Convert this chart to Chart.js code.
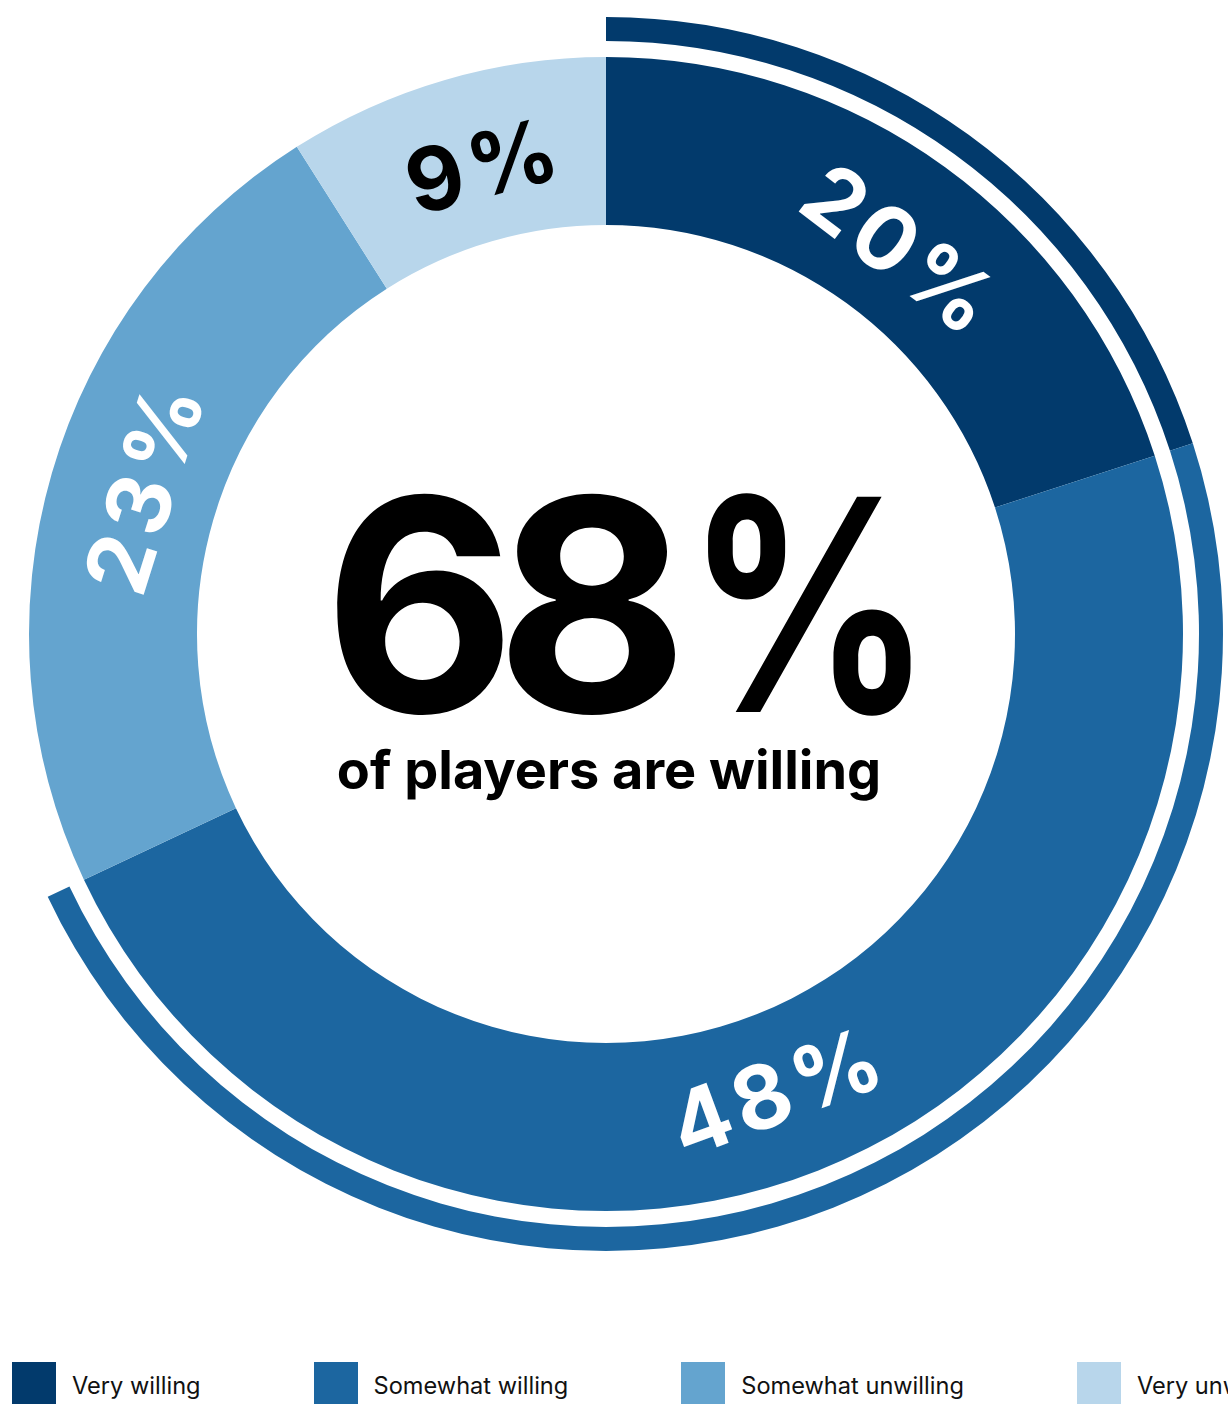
<!DOCTYPE html>
<html>
<head>
<meta charset="utf-8">
<script src="https://cdn.jsdelivr.net/npm/chart.js@4.4.1/dist/chart.umd.min.js"></script>
<style>
  body { margin: 0; background: #fff; width: 1228px; height: 1404px; overflow: hidden; font-family: Inter, sans-serif; }
  #wrap { position: relative; width: 1228px; height: 1300px; }
  #legend { position: absolute; top: 1362px; left: 12px; display: flex; white-space: nowrap; }
  .item { display: flex; align-items: flex-start; margin-right: 113px; }
  .swatch { width: 44px; height: 42px; margin-right: 16px; }
  .item span { font-size: 23.6px; color: #111; line-height: 24px; margin-top: 12px; }
</style>
</head>
<body>
<div id="wrap"><canvas id="donut" width="1228" height="1300"></canvas></div>
<div id="legend"></div>
<script>
// willingness split
const categories = ['Very willing', 'Somewhat willing', 'Somewhat unwilling', 'Very unwilling'];
const shares = [20, 48, 23, 9];
const colors = ['#023a6c', '#1c66a0', '#64a4cf', '#b8d6eb'];
const labelColors = ['#fff', '#fff', '#fff', '#000'];
const willingTotal = 68;
const headline = 'of players are willing';

// ring geometry (px)
const OUTER = 617, INNER = 409;
const RING_W = 24, GAP_W = 16, MAIN_W = 168;

const willingRest = 100 - shares[0] - shares[1];

// draw text centred on (x, y) with extra space between glyphs
function trackedText(ctx, text, x, y, tracking) {
  const chars = [...text];
  const widths = chars.map(ch => ctx.measureText(ch).width);
  const total = widths.reduce((s, w) => s + w, 0) + tracking * (chars.length - 1);
  let cx = x - total / 2;
  ctx.textAlign = 'left';
  chars.forEach((ch, i) => {
    ctx.fillText(ch, cx, y);
    cx += widths[i] + tracking;
  });
}

const arcLabels = {
  id: 'arcLabels',
  afterDatasetsDraw(chart) {
    const ctx = chart.ctx;
    const meta = chart.getDatasetMeta(2);
    const nudge = 1.3 * Math.PI / 180;
    ctx.save();
    ctx.font = '700 88px Inter';
    ctx.textBaseline = 'middle';
    meta.data.forEach((arc, i) => {
      const p = arc.getProps(['x', 'y', 'startAngle', 'endAngle', 'innerRadius', 'outerRadius'], true);
      const mid = (p.startAngle + p.endAngle) / 2 + nudge;
      const r = p.innerRadius + (p.outerRadius - p.innerRadius) * 0.46;
      let rot = mid + Math.PI / 2;
      if (Math.cos(rot) < 0) rot += Math.PI;
      ctx.save();
      ctx.translate(p.x + Math.cos(mid) * r, p.y + Math.sin(mid) * r);
      ctx.rotate(rot);
      ctx.fillStyle = labelColors[i];
      trackedText(ctx, shares[i] + '%', 0, 7, 6);
      ctx.restore();
    });
    ctx.restore();
  }
};

const centerText = {
  id: 'centerText',
  afterDraw(chart) {
    const ctx = chart.ctx;
    const a = chart.getDatasetMeta(2).data[0];
    ctx.save();
    ctx.fillStyle = '#000';
    ctx.textBaseline = 'alphabetic';
    ctx.textAlign = 'left';
    ctx.font = '700 296px Inter';
    const base = a.y + 78;
    // big number, each glyph placed by its ink edge; percent sign a bit narrower
    const [d1, d2] = [...String(willingTotal)];
    const pctScale = 0.82;
    const m1 = ctx.measureText(d1), m2 = ctx.measureText(d2), mp = ctx.measureText('%');
    ctx.fillText(d1, a.x - 273 + m1.actualBoundingBoxLeft, base);
    ctx.fillText(d2, a.x - 101 + m2.actualBoundingBoxLeft, base);
    ctx.save();
    ctx.translate(a.x + 99 + mp.actualBoundingBoxLeft * pctScale, base);
    ctx.scale(pctScale, 1);
    ctx.fillText('%', 0, 0);
    ctx.restore();
    ctx.textAlign = 'center';
    ctx.font = '700 54px Inter';
    ctx.fillText(headline, a.x + 3, a.y + 155);
    ctx.restore();
  }
};

new Chart(document.getElementById('donut'), {
  type: 'doughnut',
  data: {
    labels: categories,
    datasets: [
      { data: [shares[0], shares[1], willingRest], backgroundColor: [colors[0], colors[1], 'rgba(0,0,0,0)'],
        borderWidth: 0, weight: RING_W, clip: false },
      { data: [100], backgroundColor: ['rgba(0,0,0,0)'], borderWidth: 0, weight: GAP_W, clip: false },
      { data: shares, backgroundColor: colors, borderWidth: 0, weight: MAIN_W, clip: false }
    ]
  },
  options: {
    responsive: false,
    animation: false,
    events: [],
    radius: OUTER,
    cutout: (INNER / OUTER * 100) + '%',
    layout: { padding: { left: 0, right: 16, top: 0, bottom: 32 } },
    plugins: { legend: { display: false }, tooltip: { enabled: false } }
  },
  plugins: [arcLabels, centerText]
});

// legend row
const legend = document.getElementById('legend');
categories.forEach((c, i) => {
  const el = document.createElement('div');
  el.className = 'item';
  el.innerHTML = `<div class="swatch" style="background:${colors[i]}"></div><span>${c}</span>`;
  legend.appendChild(el);
});
</script>
</body>
</html>
